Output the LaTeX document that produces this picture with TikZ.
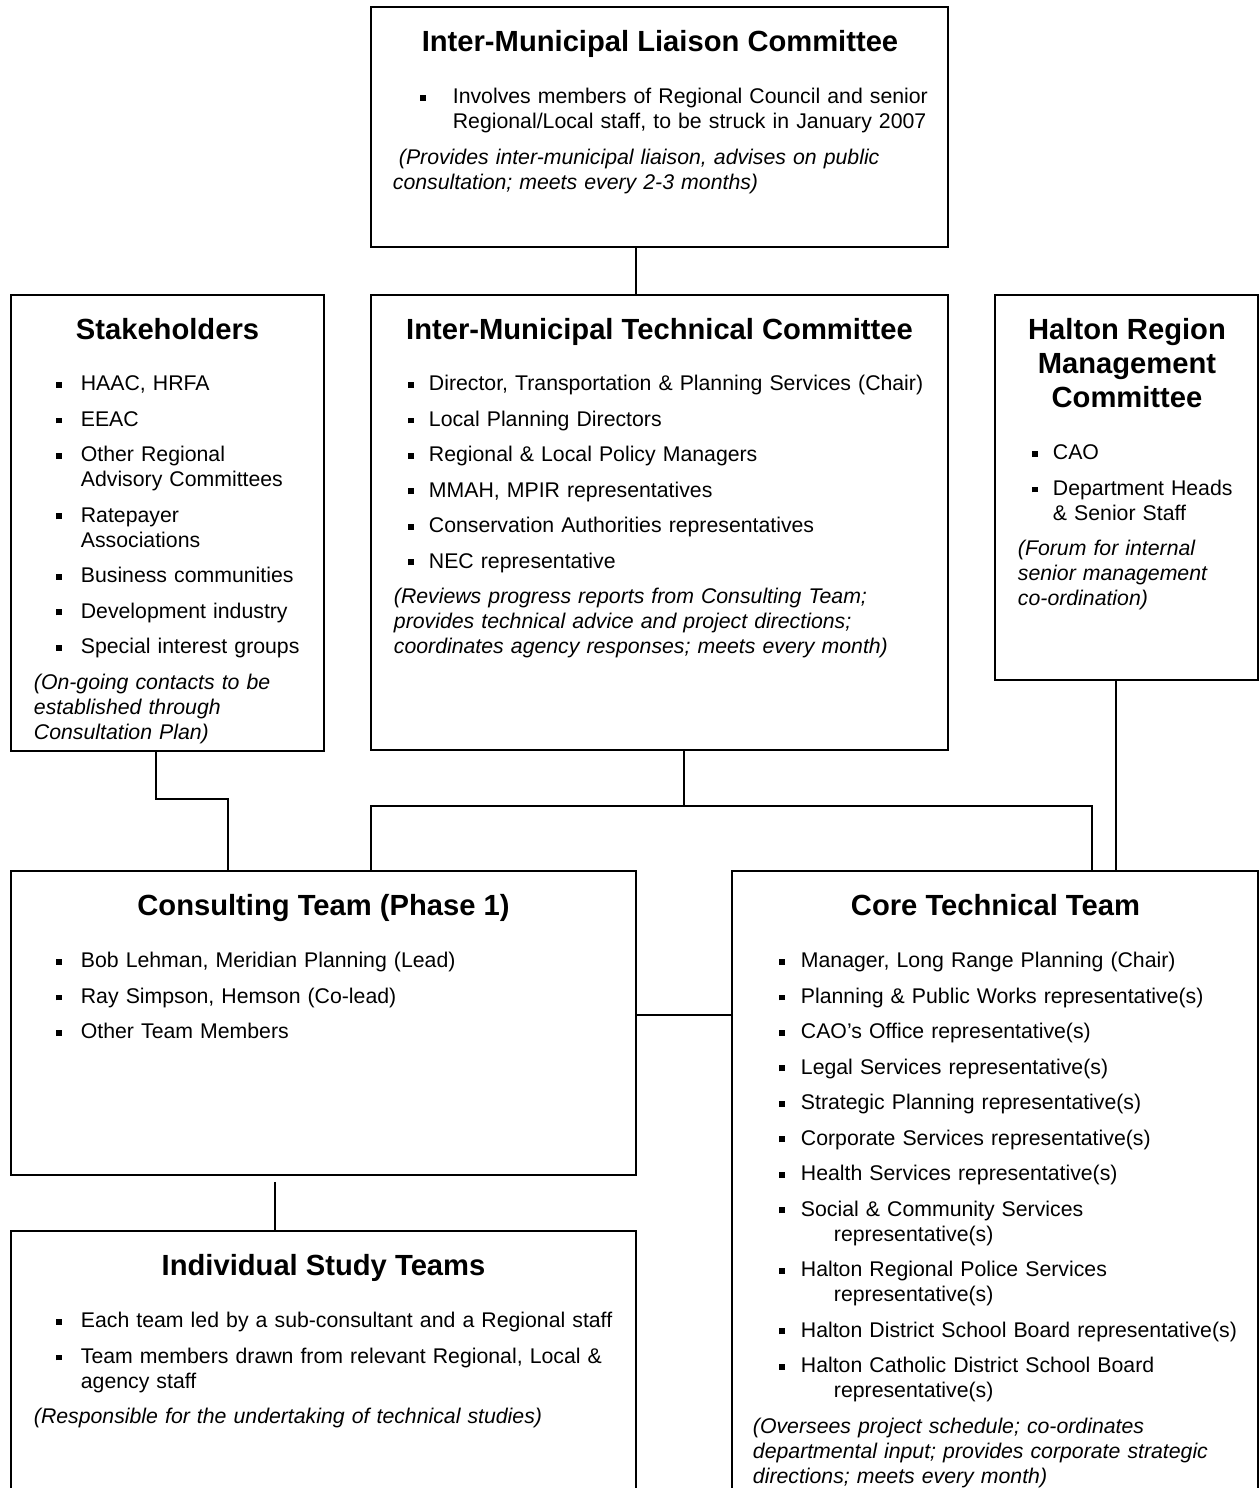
\documentclass[tikz,border=0pt]{standalone}
\usepackage{fontspec}
\setmainfont{Liberation Sans}
\usetikzlibrary{fit}
\newlength{\itmskip}
\newlength{\itmgap}
\newcommand{\sqbul}{\rule[0.14em]{0.28em}{0.28em}}
\newcommand{\indents}[2]{\setlength{\itmskip}{#1}\setlength{\itmgap}{#2}}
\newcommand{\itm}[1]{\leftskip=\itmskip\noindent\strut\llap{\sqbul\hspace{\itmgap}}#1\par}
\newcommand{\remark}[1]{\leftskip=0pt\noindent\strut\itshape #1\par}

\begin{document}
\begin{tikzpicture}[x=0.02cm,y=-0.02cm,line width=1.1pt,
  box/.style={draw,inner sep=0pt},
  head/.style={anchor=north,inner sep=0pt,align=center,font=\fontsize{16.6pt}{19.35pt}\selectfont\bfseries},
  lst/.style={anchor=north west,inner sep=0pt,align=left,text width=14cm,font=\fontsize{12.1pt}{14.2pt}\selectfont\setlength{\parskip}{6pt}}]
  \useasboundingbox (0,0) rectangle (1259,1488);
  % boxes
  \node[box,fit={(371,7) (948,247)}] (ilc) {};
  \node[box,fit={(11,295) (324,751)}] (stk) {};
  \node[box,fit={(371,295) (948,750)}] (imtc) {};
  \node[box,fit={(995,295) (1258,680)}] (hrmc) {};
  \node[box,fit={(11,871) (636,1175)}] (cons) {};
  \node[box,fit={(732,871) (1258,1500)}] (core) {};
  \node[box,fit={(11,1231) (636,1500)}] (ist) {};
  % headings
  \node[head] (ilcT) at (660,27.2) {\strut Inter-Municipal Liaison Committee};
  \node[head] (stkT) at (167.5,315.2) {\strut Stakeholders};
  \node[head] (imtcT) at (659.5,315.2) {\strut Inter-Municipal Technical Committee};
  \node[head] (hrmcT) at (1127,315.2) {\strut Halton Region\\Management\\Committee};
  \node[head] (consT) at (323.5,891.2) {\strut Consulting Team (Phase 1)};
  \node[head] (coreT) at (995.5,891.2) {\strut Core Technical Team};
  \node[head] (istT) at (323.5,1251.2) {\strut Individual Study Teams};
  % contents
  \node[lst] (ilcL) at (392,85.5) {\indents{34.1pt}{15.4pt}%
    \itm{Involves members of Regional Council and senior\\Regional/Local staff, to be struck in January 2007}
    \remark{\hspace*{3.4pt}(Provides inter-municipal liaison, advises on public\\consultation; meets every 2-3 months)}};
  \node[lst] (stkL) at (33,372.5) {\indents{26.7pt}{10.8pt}%
    \itm{HAAC, HRFA}
    \itm{EEAC}
    \itm{Other Regional\\Advisory Committees}
    \itm{Ratepayer\\Associations}
    \itm{Business communities}
    \itm{Development industry}
    \itm{Special interest groups}
    \remark{(On-going contacts to be\\established through\\Consultation Plan)}};
  \node[lst] (imtcL) at (393,372.5) {\indents{19.9pt}{8.5pt}%
    \itm{Director, Transportation \& Planning Services (Chair)}
    \itm{Local Planning Directors}
    \itm{Regional \& Local Policy Managers}
    \itm{MMAH, MPIR representatives}
    \itm{Conservation Authorities representatives}
    \itm{NEC representative}
    \remark{(Reviews progress reports from Consulting Team;\\provides technical advice and project directions;\\coordinates agency responses; meets every month)}};
  \node[lst] (hrmcL) at (1017,441.5) {\indents{19.9pt}{8.5pt}%
    \itm{CAO}
    \itm{Department Heads\\\& Senior Staff}
    \remark{(Forum for internal\\senior management\\co-ordination)}};
  \node[lst] (consL) at (33,949.5) {\indents{26.7pt}{10.8pt}%
    \itm{Bob Lehman, Meridian Planning (Lead)}
    \itm{Ray Simpson, Hemson (Co-lead)}
    \itm{Other Team Members}};
  \node[lst] (coreL) at (752,949.5) {\indents{27.3pt}{9.1pt}%
    \itm{Manager, Long Range Planning (Chair)}
    \itm{Planning \& Public Works representative(s)}
    \itm{CAO's Office representative(s)}
    \itm{Legal Services representative(s)}
    \itm{Strategic Planning representative(s)}
    \itm{Corporate Services representative(s)}
    \itm{Health Services representative(s)}
    \itm{Social \& Community Services\\\hspace*{18.8pt}representative(s)}
    \itm{Halton Regional Police Services\\\hspace*{18.8pt}representative(s)}
    \itm{Halton District School Board representative(s)}
    \itm{Halton Catholic District School Board\\\hspace*{18.8pt}representative(s)}
    \remark{(Oversees project schedule; co-ordinates\\departmental input; provides corporate strategic\\directions; meets every month)}};
  \node[lst] (istL) at (33,1309.5) {\indents{26.7pt}{10.8pt}%
    \itm{Each team led by a sub-consultant and a Regional staff}
    \itm{Team members drawn from relevant Regional, Local \&\\agency staff}
    \remark{(Responsible for the undertaking of technical studies)}};
  % connectors
  \coordinate (a1) at (636,0);
  \coordinate (s1) at (156,799);
  \coordinate (s2) at (228,799);
  \coordinate (t0) at (684,806);
  \coordinate (t1) at (371,806);
  \coordinate (t2) at (1092,806);
  \coordinate (h1) at (1116,0);
  \coordinate (c1) at (0,1015);
  \coordinate (i1) at (275,0);
  \draw (ilc.south -| a1) -- (imtc.north -| a1);
  \draw (stk.south -| s1) -- (s1) -- (s2) -- (cons.north -| s2);
  \draw (imtc.south -| t0) -- (t0);
  \draw (cons.north -| t1) -- (t1) -- (t2) -- (core.north -| t2);
  \draw (hrmc.south -| h1) -- (core.north -| h1);
  \draw (cons.east |- c1) -- (core.west |- c1);
  \draw[shorten <=3.4pt] (cons.south -| i1) -- (ist.north -| i1);
\end{tikzpicture}
\end{document}
